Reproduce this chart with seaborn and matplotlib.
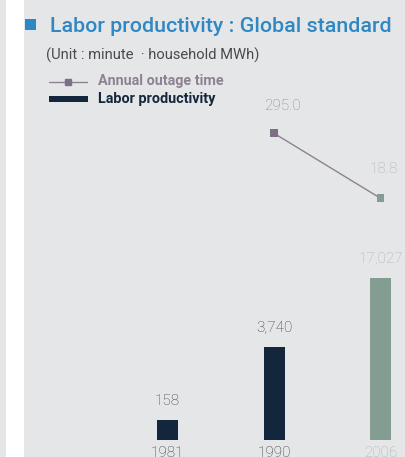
import numpy as np
import pandas as pd
import matplotlib
matplotlib.use("Agg")
import matplotlib.pyplot as plt
import seaborn as sns
from matplotlib.patches import Rectangle
from matplotlib.lines import Line2D

# Data
years = ["1981", "1990", "2006"]
productivity = [158, 3740, 17027]           # household MWh per worker
productivity_labels = ["158", "3,740", "17,027"]
outage_years = ["1990", "2006"]
outage_minutes = [295.0, 18.8]              # annual outage time, minutes
outage_labels = ["295.0", "18.8"]

# Colours
BG = "#e5e6e8"
BLUE = "#2f88c3"
NAVY = "#13263b"
SAGE = "#849d93"
MAUVE = "#8d8291"
MAUVE_DARK = "#7d7084"
PALE_SAGE = "#a6b6af"

W, H = 406, 457


def fx(x):
    return x / W


def fy(y):
    return 1 - y / H


sns.set_theme(style="white")
plt.rcParams["font.family"] = ["Roboto", "DejaVu Sans"]

fig = plt.figure(figsize=(W / 100, H / 100), dpi=100, facecolor=BG)

# white margin stripe
fig.patches.append(Rectangle((fx(6), 0), fx(18), 1, transform=fig.transFigure,
                             facecolor="white", edgecolor="none", zorder=0))

# title block
fig.patches.append(Rectangle((fx(25), fy(30)), fx(11), 11 / H, transform=fig.transFigure,
                             facecolor=BLUE, edgecolor="none"))
fig.text(fx(50), fy(32), "Labor productivity : Global standard", color=BLUE,
         fontsize=15.4, fontweight="medium", va="baseline", ha="left")
fig.text(fx(46), fy(55), "(Unit : minute  · household MWh)", color="#4a4a4a",
         fontsize=10.6, fontweight="normal", va="center", ha="left")

# legend
fig.add_artist(Line2D([fx(49), fx(87)], [fy(82), fy(82)], color=MAUVE, lw=1,
                      transform=fig.transFigure))
fig.add_artist(Line2D([fx(68)], [fy(82)], marker="s", ms=5, color=MAUVE_DARK, lw=0,
                      transform=fig.transFigure))
fig.text(fx(98), fy(81), "Annual outage time", color=MAUVE, fontsize=10.4,
         fontweight="bold", va="center", ha="left")
fig.patches.append(Rectangle((fx(49), fy(102)), fx(39), 6 / H, transform=fig.transFigure,
                             facecolor=NAVY, edgecolor="none"))
fig.text(fx(98), fy(99), "Labor productivity", color=NAVY, fontsize=10.4,
         fontweight="bold", va="center", ha="left")

# bar axes
ax = fig.add_axes([fx(100), fy(440), fx(406) - fx(100), (440 - 110) / H])
ax.patch.set_visible(False)
df = pd.DataFrame({"year": years, "value": productivity})
sns.barplot(data=df, x="year", y="value", hue="year", palette=[NAVY, NAVY, SAGE],
            width=0.197, saturation=1, legend=False, linewidth=0, ax=ax)

power = 0.3
ax.set_yscale("function", functions=(lambda v: np.power(np.clip(v, 0, None), power),
                                     lambda u: np.power(np.clip(u, 0, None), 1 / power)))
ax.set_ylim(23.7, 1.44e5)

label_colors = ["#3c3c3c", "#3c3c3c", PALE_SAGE]
for i, (val, txt) in enumerate(zip(productivity, productivity_labels)):
    ax.annotate(txt, xy=(i, val), xytext=(0, 13.7), textcoords="offset points",
                ha="center", va="center", fontsize=11, fontweight="light",
                color=label_colors[i])

# outage line on a secondary axis
ax2 = ax.twinx()
ax2.patch.set_visible(False)
xpos = [years.index(y) for y in outage_years]
sns.lineplot(x=xpos, y=outage_minutes, color=MAUVE, lw=1, ax=ax2)
odf = pd.DataFrame({"x": xpos, "y": outage_minutes, "year": outage_years})
sns.scatterplot(data=odf, x="x", y="y", hue="year", palette=[MAUVE_DARK, SAGE],
                marker="s", s=30, linewidth=0, legend=False, ax=ax2, zorder=3)
ax2.set_ylim(-1008.4, 394)
outage_colors = ["#8a8590", PALE_SAGE]
outage_offsets = [(6, 20), (2, 21)]
for x, val, txt, c, off in zip(xpos, outage_minutes, outage_labels, outage_colors, outage_offsets):
    ax2.annotate(txt, xy=(x, val), xytext=off, textcoords="offset points",
                 ha="center", va="center", fontsize=11, fontweight="light", color=c)

for a in (ax, ax2):
    for s in a.spines.values():
        s.set_visible(False)
    a.set_xlabel("")
    a.set_ylabel("")
    a.set_yticks([])

ax.set_xticks(range(len(years)))
ax.set_xticklabels(years)
ax.set_xlim(-0.634, 2.239)
ax.tick_params(axis="x", length=0, pad=4.5, labelsize=11)
for lbl, c in zip(ax.get_xticklabels(), ["#3c3c3c", "#3c3c3c", PALE_SAGE]):
    lbl.set_color(c)
    lbl.set_fontweight("light")

fig.savefig("out.png", dpi=100, facecolor=BG)
